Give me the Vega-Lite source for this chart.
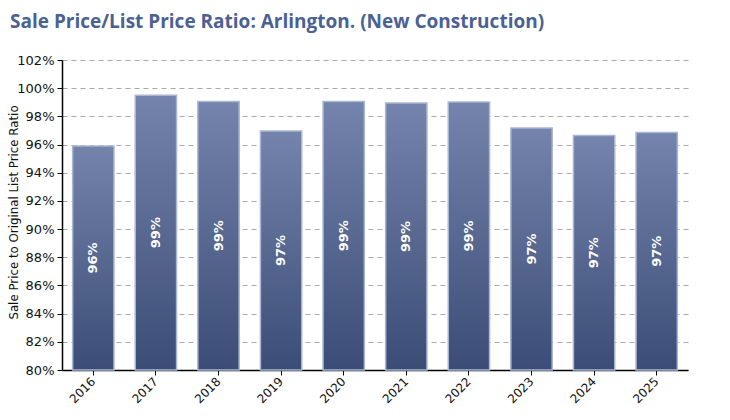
{
  "$schema": "https://vega.github.io/schema/vega-lite/v6.json",
  "autosize": "none",
  "width": 626,
  "height": 310,
  "padding": {"left": 62, "top": 60, "right": 42, "bottom": 50},
  "background": "white",
  "config": {
    "view": {"stroke": null},
    "axisY": {
      "titleFont": "DejaVu Sans",
      "titleFontSize": 11.8,
      "titleFontWeight": "normal",
      "titleColor": "#111111",
      "titleX": -43,
      "titleY": 152,
      "values": [80, 82, 84, 86, 88, 90, 92, 94, 96, 98, 100, 102],
      "labelOverlap": false,
      "labelExpr": "datum.value + '%'",
      "labelFont": "DejaVu Sans",
      "labelFontSize": 13,
      "labelColor": "#111111",
      "labelPadding": 3,
      "domainColor": "#000000",
      "domainWidth": 1.5,
      "tickColor": "#000000",
      "tickSize": 5,
      "grid": true,
      "gridColor": "#aaaaaa",
      "gridDash": [5, 4],
      "gridWidth": 1
    }
  },
  "title": {
    "text": "Sale Price/List Price Ratio: Arlington. (New Construction)",
    "anchor": "start",
    "frame": "group",
    "dx": -52,
    "offset": 22,
    "font": "Open Sans",
    "fontSize": 19,
    "fontWeight": "bold",
    "color": "#4a6194"
  },
  "data": {
    "values": [
      {"year": "2016", "ratio": 95.9, "label": "96%"},
      {"year": "2017", "ratio": 99.5, "label": "99%"},
      {"year": "2018", "ratio": 99.06, "label": "99%"},
      {"year": "2019", "ratio": 96.96, "label": "97%"},
      {"year": "2020", "ratio": 99.06, "label": "99%"},
      {"year": "2021", "ratio": 98.95, "label": "99%"},
      {"year": "2022", "ratio": 99.02, "label": "99%"},
      {"year": "2023", "ratio": 97.17, "label": "97%"},
      {"year": "2024", "ratio": 96.64, "label": "97%"},
      {"year": "2025", "ratio": 96.86, "label": "97%"}
    ]
  },
  "encoding": {
    "x": {
      "field": "year",
      "type": "nominal",
      "scale": {"paddingInner": 0.34, "paddingOuter": 0.17},
      "axis": {
        "title": null,
        "labelAngle": -45,
        "labelAlign": "right",
        "labelBaseline": "middle",
        "labelFont": "DejaVu Sans",
        "labelFontSize": 12,
        "labelColor": "#111111",
        "labelPadding": 4,
        "domainColor": "#000000",
        "domainWidth": 1.5,
        "tickColor": "#000000",
        "tickSize": 5,
        "grid": false
      }
    }
  },
  "layer": [
    {
      "mark": {
        "type": "bar",
        "stroke": "#a9b6d3",
        "strokeWidth": 1.5,
        "color": {
          "gradient": "linear",
          "x1": 0, "y1": 0, "x2": 0, "y2": 1,
          "stops": [
            {"offset": 0, "color": "#7484ac"},
            {"offset": 1, "color": "#3b4c76"}
          ]
        }
      },
      "encoding": {
        "y": {
          "field": "ratio",
          "type": "quantitative",
          "scale": {"domain": [80, 102], "zero": false, "nice": false},
          "axis": {"title": "Sale Price to Original List Price Ratio"}
        },
        "y2": {"datum": 80}
      }
    },
    {
      "transform": [{"calculate": "(datum.ratio + 80) / 2", "as": "mid"}],
      "mark": {
        "type": "text",
        "angle": -90,
        "align": "center",
        "baseline": "middle",
        "font": "DejaVu Sans",
        "fontSize": 13,
        "fontWeight": "bold",
        "color": "white"
      },
      "encoding": {
        "y": {"field": "mid", "type": "quantitative", "axis": {"title": "Sale Price to Original List Price Ratio"}},
        "text": {"field": "label"}
      }
    }
  ]
}
